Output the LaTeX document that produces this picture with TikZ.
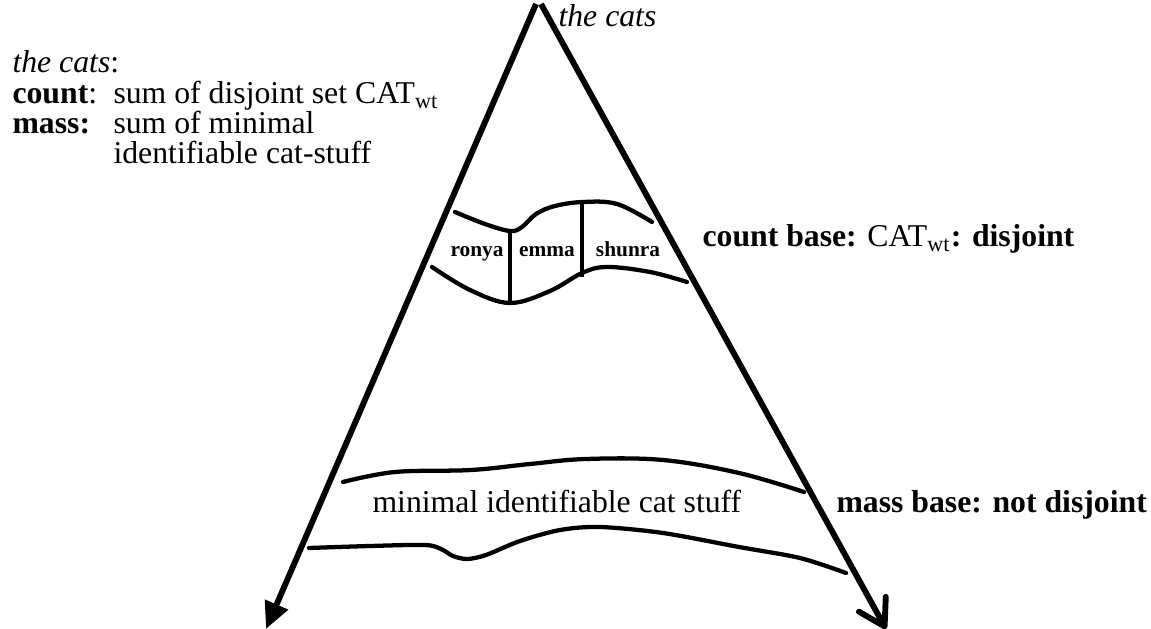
\documentclass[tikz,border=0pt]{standalone}
\usepackage{fontspec}
\setmainfont{Liberation Serif}
\usetikzlibrary{arrows.meta}

\tikzset{
  side/.style={line width=2.2pt},
  band/.style={line width=1.6pt, line cap=round},
  cut/.style={line width=1.6pt},
  catname/.style={font=\fontsize{8}{9}\selectfont\bfseries, inner sep=0pt, anchor=base},
  txt/.style={font=\fontsize{11.9}{14}\selectfont, inner sep=0pt, anchor=base west},
}

\begin{document}
\begin{tikzpicture}[x=0.375pt,y=-0.375pt]
\useasboundingbox (0,0) rectangle (1151,629);

% the two sides of the triangle
\coordinate (TopL) at (536,4);
\coordinate (TopR) at (541,4);
\coordinate (TipL) at (266,629);
\coordinate (TipR) at (886,629);
\draw[side,-{Triangle[length=10pt,width=9pt]}] (TopL) -- (TipL);
\draw[side,-{Straight Barb[length=9.5pt,width=11.5pt,round]}] (TopR) -- (TipR);

% count base
\draw[band] plot[smooth,tension=0.6] coordinates {(455,212) (485,224) (510,231) (522,227) (536,214) (555,206) (583,202) (617,204) (652,222)};
\draw[band] plot[smooth,tension=0.6] coordinates {(432,267) (470,290) (510,303) (550,291) (582,273) (607,267) (650,272) (687,282)};
\draw[cut] (510,231) -- (510,303);
\draw[cut] (582,202) -- (582,277);
\node[catname] (ronya) at (477,257) {ronya};
\node[catname] (emma) at (547,257) {emma};
\node[catname] (shunra) at (628,257) {shunra};

% mass base
\draw[band] plot[smooth,tension=0.6] coordinates {(343,482) (395,472) (471,470) (530,464) (586,459) (663,460) (739,473) (804,492)};
\draw[band] plot[smooth,tension=0.5] coordinates {(309,548) (370,546) (425,545) (441,549) (453,556) (467,559) (486,555) (520,541) (560,530) (600,527) (663,533) (739,547) (800,558) (846,573)};

\node[txt] (stuff) at (372,513) {minimal identifiable cat stuff};
\node[txt] (massbase) at (836,513) {\textbf{mass base: not disjoint}};
\node[txt] (countbase) at (702,247) {\textbf{count base:} CAT\textsubscript{wt}\textbf{: disjoint}};
\node[txt] (top) at (558,27) {\textit{the cats}};

% legend top left
\node[txt] (cats) at (12,73) {\textit{the cats}:};
\node[txt] (count) at (12,104) {\textbf{count}:};
\node[txt] (countdef) at (113,104) {sum of disjoint set CAT\textsubscript{wt}};
\node[txt] (mass) at (12,134) {\textbf{mass:}};
\node[txt] (massdef) at (113,134) {sum of minimal};
\node[txt] (massdef2) at (113,164) {identifiable cat-stuff};
\end{tikzpicture}
\end{document}
